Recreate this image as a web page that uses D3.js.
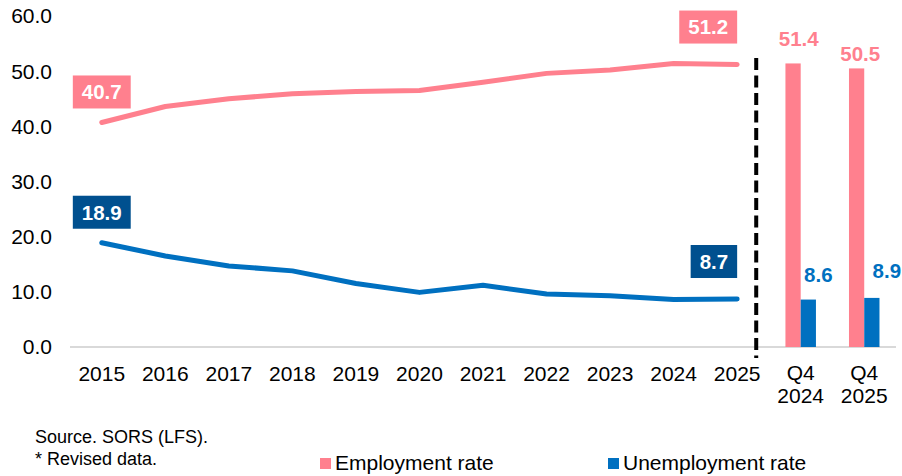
<!DOCTYPE html>
<html>
<head>
<meta charset="utf-8">
<script src="https://cdn.jsdelivr.net/npm/d3@7"></script>
<style>
  html, body { margin: 0; padding: 0; background: #fff; }
  svg { display: block; font-family: "Liberation Sans", Arial, sans-serif; }
</style>
</head>
<body>
<svg id="chart" width="902" height="476"></svg>
<script>
// Annual series (2015–2025)
const years = ["2015","2016","2017","2018","2019","2020","2021","2022","2023","2024","2025"];
const employmentRate = [40.7, 43.6, 45.0, 45.9, 46.3, 46.5, 48.0, 49.6, 50.2, 51.4, 51.2];
const unemploymentRate = [18.9, 16.5, 14.7, 13.8, 11.5, 9.9, 11.2, 9.6, 9.3, 8.6, 8.7];

// Quarterly comparison bars
const quarters = ["Q4 2024", "Q4 2025"];
const quarterLabels = [["Q4", "2024"], ["Q4", "2025"]];
const quarterEmployment = [51.4, 50.5];
const quarterUnemployment = [8.6, 8.9];

const yTicks = [0, 10, 20, 30, 40, 50, 60];
const legendItems = ["Employment rate", "Unemployment rate"];
const notes = ["Source. SORS (LFS).", "* Revised data."];

const PINK = "#ff808e";
const BLUE = "#0070c0";
const DARK_BLUE = "#00508f";

const svg = d3.select("#chart");

const x = d3.scaleBand()
  .domain(years.concat(quarters))
  .range([70, 896])
  .padding(0);
const y = d3.scaleLinear().domain([0, 60]).range([347, 16]);
const step = x.step();
const cx = c => x(c) + x.bandwidth() / 2;

// Y tick labels
svg.append("g")
  .selectAll("text")
  .data(yTicks)
  .join("text")
  .attr("x", 52)
  .attr("y", d => y(d))
  .attr("dy", "0.35em")
  .attr("text-anchor", "end")
  .attr("font-size", 21)
  .attr("fill", "#000")
  .text(d => d3.format(".1f")(d));

// Baseline
svg.append("line")
  .attr("x1", 70).attr("x2", 896)
  .attr("y1", y(0)).attr("y2", y(0))
  .attr("stroke", "#d9d9d9")
  .attr("stroke-width", 2);

// Year labels
svg.append("g")
  .selectAll("text")
  .data(years)
  .join("text")
  .attr("x", d => cx(d))
  .attr("y", 381)
  .attr("text-anchor", "middle")
  .attr("font-size", 21)
  .text(d => d);

// Quarter labels (two lines)
const qLab = svg.append("g")
  .selectAll("text")
  .data(quarters)
  .join("text")
  .attr("text-anchor", "middle")
  .attr("font-size", 21);
qLab.each(function(d, i) {
  const t = d3.select(this);
  quarterLabels[i].forEach((line, j) => {
    t.append("tspan")
      .attr("x", cx(d))
      .attr("y", 380 + j * 23)
      .text(line);
  });
});

// Divider between annual and quarterly data
svg.append("line")
  .attr("x1", cx("2025") + step * 0.3)
  .attr("x2", cx("2025") + step * 0.3)
  .attr("y1", 58)
  .attr("y2", 358)
  .attr("stroke", "#000")
  .attr("stroke-width", 4)
  .attr("stroke-dasharray", "12,5.5");

// Lines
const line = d3.line()
  .x((d, i) => cx(years[i]))
  .y(d => y(d));

svg.append("path")
  .datum(employmentRate)
  .attr("d", line)
  .attr("fill", "none")
  .attr("stroke", PINK)
  .attr("stroke-width", 5)
  .attr("stroke-linecap", "round")
  .attr("stroke-linejoin", "round");

svg.append("path")
  .datum(unemploymentRate)
  .attr("d", line)
  .attr("fill", "none")
  .attr("stroke", BLUE)
  .attr("stroke-width", 5)
  .attr("stroke-linecap", "round")
  .attr("stroke-linejoin", "round");

// Boxed value labels on the first and last points of each line
function boxLabel(px, py, value, fill, align) {
  const g = svg.append("g");
  const t = g.append("text")
    .attr("font-size", 20.5)
    .attr("font-weight", "bold")
    .attr("fill", "#fff")
    .attr("text-anchor", "middle")
    .text(d3.format(".1f")(value));
  const w = t.node().getComputedTextLength() + 18;
  const h = 33;
  const left = align === "center" ? px - w / 2 : px - w;
  const bottom = py - (align === "center" ? 14 : 21);
  g.insert("rect", "text")
    .attr("x", left).attr("y", bottom - h)
    .attr("width", w).attr("height", h)
    .attr("fill", fill);
  t.attr("x", left + w / 2).attr("y", bottom - h / 2).attr("dy", "0.36em");
}
const last = years.length - 1;
boxLabel(cx(years[0]), y(employmentRate[0]), employmentRate[0], PINK, "center");
boxLabel(cx(years[0]), y(unemploymentRate[0]), unemploymentRate[0], DARK_BLUE, "center");
boxLabel(cx(years[last]), y(employmentRate[last]), employmentRate[last], PINK, "right");
boxLabel(cx(years[last]), y(unemploymentRate[last]), unemploymentRate[last], DARK_BLUE, "right");

// Quarterly bars
const barW = step * 0.24;
const bars = svg.append("g");
bars.selectAll("rect.emp")
  .data(quarters)
  .join("rect")
  .attr("class", "emp")
  .attr("x", d => cx(d) - barW)
  .attr("y", (d, i) => y(quarterEmployment[i]))
  .attr("width", barW)
  .attr("height", (d, i) => y(0) - y(quarterEmployment[i]))
  .attr("fill", PINK);
bars.selectAll("rect.unemp")
  .data(quarters)
  .join("rect")
  .attr("class", "unemp")
  .attr("x", d => cx(d))
  .attr("y", (d, i) => y(quarterUnemployment[i]))
  .attr("width", barW)
  .attr("height", (d, i) => y(0) - y(quarterUnemployment[i]))
  .attr("fill", BLUE);

// Bar value labels (label gaps above each bar)
const empLabelGap = [17, 7];
const empLabelShift = [-2, -4];
const unempLabelGap = [18, 19.5];
const unempLabelShift = [10, 15];
bars.selectAll("text.emp")
  .data(quarters)
  .join("text")
  .attr("class", "emp")
  .attr("x", (d, i) => cx(d) + empLabelShift[i])
  .attr("y", (d, i) => y(quarterEmployment[i]) - empLabelGap[i])
  .attr("text-anchor", "middle")
  .attr("font-size", 20.5)
  .attr("font-weight", "bold")
  .attr("fill", PINK)
  .text((d, i) => d3.format(".1f")(quarterEmployment[i]));
bars.selectAll("text.unemp")
  .data(quarters)
  .join("text")
  .attr("class", "unemp")
  .attr("x", (d, i) => cx(d) + barW / 2 + unempLabelShift[i])
  .attr("y", (d, i) => y(quarterUnemployment[i]) - unempLabelGap[i])
  .attr("text-anchor", "middle")
  .attr("font-size", 20.5)
  .attr("font-weight", "bold")
  .attr("fill", BLUE)
  .text((d, i) => d3.format(".1f")(quarterUnemployment[i]));

// Notes
svg.append("g")
  .selectAll("text")
  .data(notes)
  .join("text")
  .attr("x", 35)
  .attr("y", (d, i) => 443 + i * 22)
  .attr("font-size", 18)
  .text(d => d);

// Legend
const legendX = [320, 608];
const legendColors = [PINK, BLUE];
const lg = svg.append("g")
  .selectAll("g")
  .data(legendItems)
  .join("g")
  .attr("transform", (d, i) => `translate(${legendX[i]},0)`);
lg.append("rect")
  .attr("x", 0).attr("y", 458)
  .attr("width", 11).attr("height", 11)
  .attr("fill", (d, i) => legendColors[i]);
lg.append("text")
  .attr("x", 15)
  .attr("y", 469.5)
  .attr("font-size", 21)
  .text(d => d);
</script>
</body>
</html>
